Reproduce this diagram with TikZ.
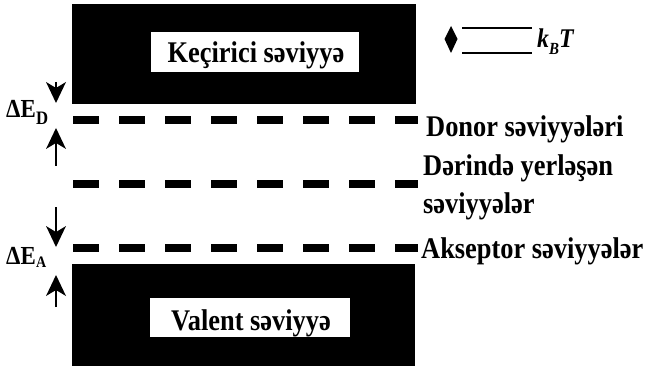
\documentclass[tikz,border=0pt]{standalone}
\usepackage{fontspec}
\setmainfont{Liberation Serif}[FakeStretch=0.88]
\begin{document}
\begin{tikzpicture}[x=1pt,y=-1pt,
  band/.style={fill=black, draw=none, inner sep=0pt, outer sep=0pt},
  whitebox/.style={fill=white, draw=none, inner sep=0pt, outer sep=0pt},
  bandtext/.style={anchor=base, inner sep=0pt, font=\fontsize{30}{30}\selectfont\bfseries},
  lev/.style={line width=8pt, dash pattern=on 26pt off 20pt},
  side/.style={anchor=base west, inner sep=0pt, font=\fontsize{30}{30}\selectfont\bfseries},
  shaft/.style={line width=2.2pt},
  dlabel/.style={anchor=base west, inner sep=0pt, font=\fontsize{26}{26}\selectfont\bfseries},
  dsub/.style={anchor=base west, inner sep=0pt, font=\fontsize{19}{19}\selectfont\bfseries},
]
\useasboundingbox (0,0) rectangle (650,366);

% conduction band
\node[band, minimum width=344pt, minimum height=100pt] (cb) at (244,54) {};
\node[whitebox, minimum width=208pt, minimum height=40pt] (cbbox) at (255,52) {};
\node[bandtext] (cbtext) at (256,63) {Keçirici səviyyə};

% valence band
\node[band, minimum width=343pt, minimum height=103pt] (vb) at (243.5,315.5) {};
\node[whitebox, minimum width=200pt, minimum height=39pt] (vbbox) at (250,317.5) {};
\node[bandtext] (vbtext) at (251,330) {Valent səviyyə};

% levels
\coordinate (dL) at (73,120); \coordinate (dR) at (418,120);
\coordinate (mL) at (73,184); \coordinate (mR) at (418,184);
\coordinate (aL) at (73,248); \coordinate (aR) at (418,248);
\draw[lev] (dL) -- (dR);
\draw[lev] (mL) -- (mR);
\draw[lev] (aL) -- (aR);

% side labels
\node[side] (don) at (426,137) {Donor səviyyələri};
\node[side] (der1) at (423,176) {Dərində yerləşən};
\node[side] (der2) at (423,213) {səviyyələr};
\node[side] (aks) at (421,258) {Akseptor səviyyələr};

% gap arrows (shaft + filled head)
\coordinate (a1s) at (56,82);  \coordinate (a1e) at (56,103);
\coordinate (a2s) at (56,166); \coordinate (a2e) at (56,128);
\coordinate (a3s) at (56,207); \coordinate (a3e) at (56,247);
\coordinate (a4s) at (56,307); \coordinate (a4e) at (56,275);
\draw[shaft] (a1s) -- ++(0,10);
\fill (a1e) -- ++(-10,-21) -- ++(10,6) -- ++(10,-6) -- cycle;
\draw[shaft] (a2s) -- ++(0,-24);
\fill (a2e) -- ++(-10,21) -- ++(10,-6) -- ++(10,6) -- cycle;
\draw[shaft] (a3s) -- ++(0,28);
\fill (a3e) -- ++(-10,-21) -- ++(10,6) -- ++(10,-6) -- cycle;
\draw[shaft] (a4s) -- ++(0,-18);
\fill (a4e) -- ++(-10,21) -- ++(10,-6) -- ++(10,6) -- cycle;

% Delta E labels
\node[dlabel] (de1) at (6,118) {ΔE};
\node[dsub] (de1s) at (de1.base east) [yshift=-7pt] {D};
\node[dlabel] (de2) at (6,264) {ΔE};
\node[dsub, font=\fontsize{16}{16}\selectfont\bfseries] (de2s) at (de2.base east) [yshift=-3pt] {A};

% k_B T scale
\fill (451,26) -- (457.5,39) -- (451,53) -- (444.5,39) -- cycle;
\coordinate (k1L) at (462,28); \coordinate (k1R) at (532,28);
\coordinate (k2L) at (462,53); \coordinate (k2R) at (532,53);
\draw[line width=1.3pt] (k1L) -- (k1R);
\draw[line width=1.3pt] (k2L) -- (k2R);
\node[anchor=base west, inner sep=0pt, font=\fontsize{27}{27}\selectfont\bfseries\itshape] (kbt) at (537,48) {k\raisebox{-7pt}{\fontsize{17}{17}\selectfont B}T};
\end{tikzpicture}
\end{document}
